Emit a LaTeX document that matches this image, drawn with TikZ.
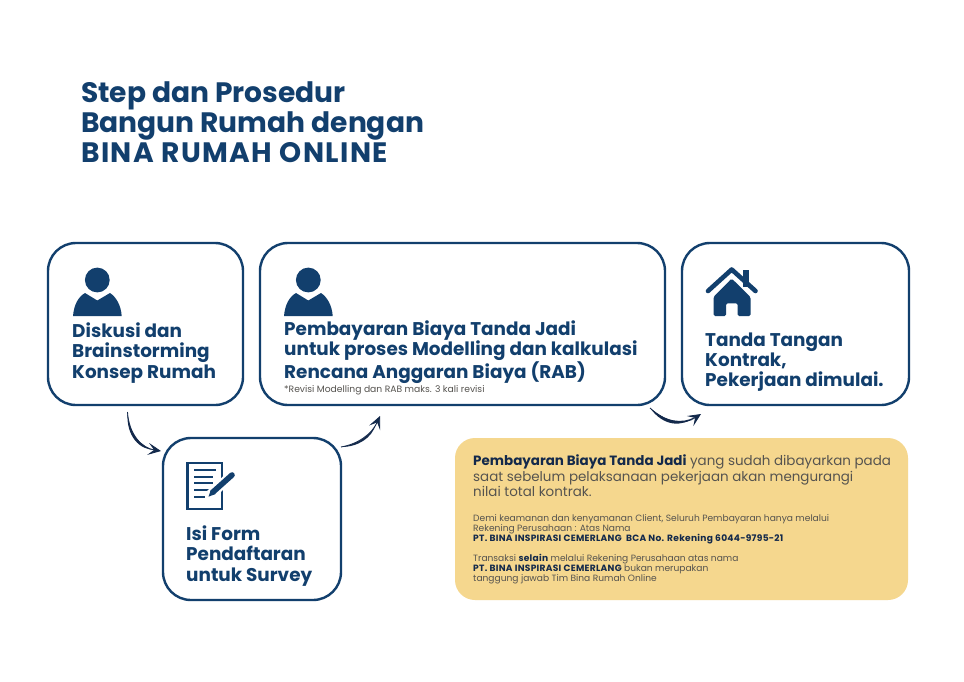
\documentclass[tikz,border=0pt]{standalone}
\usepackage{fontspec}
\setmainfont{Poppins}
\usetikzlibrary{arrows.meta}
\definecolor{navy}{HTML}{123F6D}
\definecolor{inkdark}{HTML}{13294B}
\definecolor{softgrey}{HTML}{55534F}
\definecolor{sand}{HTML}{F5D78E}
\tikzset{
  stepbox/.style={draw=navy,line width=2.4pt,rounded corners=28pt,fill=white,inner sep=0pt},
  notebox/.style={fill=sand,rounded corners=20pt,inner sep=0pt},
  heading/.style={anchor=west,align=left,inner sep=0pt,text=navy,font=\fontsize{28.1}{30}\selectfont\bfseries},
  steptext/.style={anchor=west,align=left,inner sep=0pt,text=navy,font=\fontsize{18.4}{20.3}\selectfont\bfseries},
  noteline/.style={anchor=west,align=left,inner sep=0pt,text=softgrey},
  swoosh/.style={draw=inkdark,line width=0.8pt,-{Stealth[length=13pt,width=12pt,inset=6pt]}},
  taper/.style={fill=inkdark,draw=none},
  icon/.style={fill=navy,draw=none},
}
\newcommand{\boldnote}[1]{\textcolor{inkdark}{\addfontfeature{LetterSpace=3}\bfseries #1}}
\begin{document}
\begin{tikzpicture}[x=1pt,y=-1pt]
  \useasboundingbox (0,0) rectangle (964,681);
  \fill[white] (0,0) rectangle (964,681);

  \node[heading] (title) at (81,122) {Step dan Prosedur\\Bangun Rumah dengan\\{\addfontfeature{LetterSpace=5}BINA RUMAH ONLINE}};

  \node[stepbox,minimum width=195pt,minimum height=162pt] (diskusi) at (145.5,324) {};
  \node[stepbox,minimum width=405pt,minimum height=162pt] (bayar) at (462.5,324) {};
  \node[stepbox,minimum width=227pt,minimum height=162pt] (kontrak) at (795.5,324) {};
  \node[stepbox,minimum width=178pt,minimum height=162pt] (form) at (252,519) {};
  \node[notebox,minimum width=453pt,minimum height=162pt] (catatan) at (681.5,519) {};

  \node[steptext] (diskusitext) at (72,353) {Diskusi dan\\Brainstorming\\Konsep Rumah};
  \node[steptext] (bayartext) at (284,352) {Pembayaran Biaya Tanda Jadi\\untuk proses Modelling dan kalkulasi\\Rencana Anggaran Biaya (RAB)};
  \node[noteline,font=\fontsize{9.2}{10}\selectfont] (revisi) at (284,390) {*Revisi Modelling dan RAB maks. 3 kali revisi};
  \node[steptext] (kontraktext) at (705,362) {Tanda Tangan\\Kontrak,\\Pekerjaan dimulai.};
  \node[steptext] (formtext) at (186,556) {Isi Form\\Pendaftaran\\untuk Survey};

  \node[noteline,font=\fontsize{13.45}{15.5}\selectfont] (notebig) at (473,476)
    {\textcolor{inkdark}{\bfseries Pembayaran Biaya Tanda Jadi} yang sudah dibayarkan pada\\saat sebelum pelaksanaan pekerjaan akan mengurangi\\nilai total kontrak.};
  \node[noteline,font=\fontsize{9.1}{10}\selectfont] (noterek) at (473,529)
    {Demi keamanan dan kenyamanan Client, Seluruh Pembayaran hanya melalui\\Rekening Perusahaan : Atas Nama\\\boldnote{PT. BINA INSPIRASI CEMERLANG\ \ BCA No. Rekening 6044-9795-21}};
  \node[noteline,font=\fontsize{9.1}{10}\selectfont] (notetrans) at (473,569)
    {Transaksi \boldnote{selain} melalui Rekening Perusahaan atas nama\\\boldnote{PT. BINA INSPIRASI CEMERLANG} bukan merupakan\\tanggung jawab Tim Bina Rumah Online};

  % arrows between the steps
  \coordinate (a1) at (127.5,412);
  \coordinate (a2) at (161,451);
  \coordinate (b1) at (341,447);
  \coordinate (b2) at (380,416);
  \coordinate (c1) at (650,408);
  \coordinate (c2) at (701,414);
  \fill[taper] (a1) .. controls (129,435) and (142,448) .. (155,450) .. controls (140,450) and (126,437) .. (a1);
  \draw[swoosh] (a1) .. controls (129,435) and (142,448) .. (a2);
  \fill[taper] (b1) .. controls (358,444) and (370,436) .. (376,424) .. controls (372,438) and (358,447) .. (b1);
  \draw[swoosh] (b1) .. controls (358,444) and (372,434) .. (b2);
  \fill[taper] (c1) .. controls (666,422) and (682,424) .. (695,417) .. controls (682,427) and (664,427) .. (c1);
  \draw[swoosh] (c1) .. controls (668,424) and (684,425) .. (c2);

  % person icons
  \foreach \dx in {0,211} {
    \fill[icon] (97.3+\dx,280) circle (12.4);
    \fill[icon] (73+\dx,316) .. controls (74+\dx,305) and (78+\dx,297) .. (85+\dx,293)
      -- (97.3+\dx,300.5) -- (110+\dx,293) .. controls (116+\dx,297) and (121+\dx,305) .. (121.7+\dx,316) -- cycle;
  }

  % house icon
  \fill[icon] (743.3,270) rectangle (749.3,287);
  \fill[icon,rounded corners=1.5pt] (713.5,297) -- (731.7,278.5) -- (750.5,297) -- (750.5,316) -- (737.7,316) -- (737.7,303.3)
    -- (726,303.3) -- (726,316) -- (713.5,316) -- cycle;
  \draw[navy,line width=4.6pt,line cap=round,line join=round] (708,291) -- (731.7,269.5) -- (755.5,291);

  % form icon
  \draw[navy,line width=2.8pt] (187.5,463) rectangle (222,509);
  \foreach \yy/\xe in {470/216,476.7/213,483.3/213,490/209,496.7/205}
    \draw[navy,line width=1.8pt] (194,\yy) -- (\xe,\yy);
  \draw[white,line width=10pt] (232,475) -- (210,495);
  \draw[navy,line width=5.6pt,line cap=round] (232,475) -- (213,492);
  \fill[icon] (208.5,496.7) -- (211,489.5) -- (215.5,494) -- cycle;
\end{tikzpicture}
\end{document}
